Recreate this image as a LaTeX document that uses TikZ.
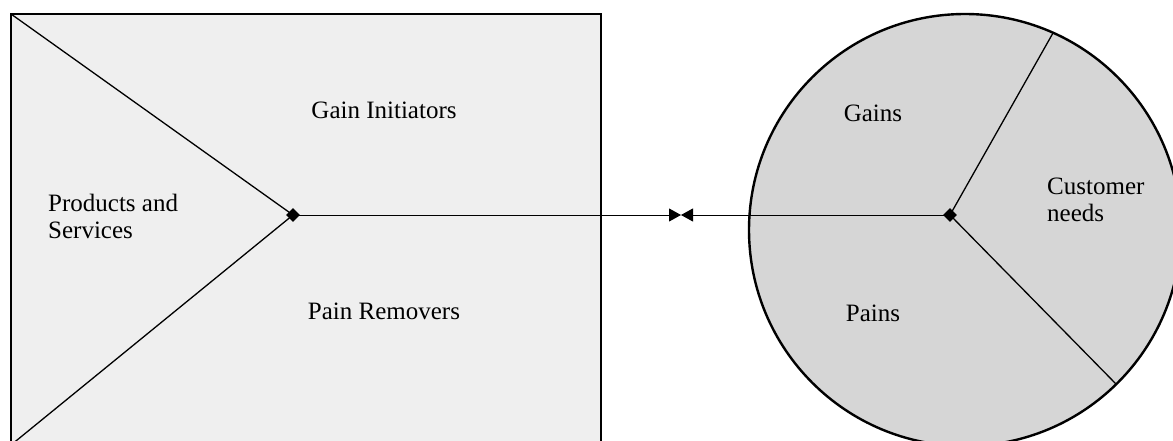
\documentclass[tikz,border=0pt]{standalone}
\usepackage{fontspec}
\setmainfont{Liberation Serif}
\usetikzlibrary{arrows.meta,shapes.geometric}
\begin{document}
\begin{tikzpicture}[x=1pt,y=-1pt,
  lbl/.style={font=\fontsize{25}{27}\selectfont, inner sep=0pt},
  hub/.style={diamond, fill=black, minimum size=14pt, inner sep=0pt},
  edge/.style={line width=1.3pt},
  link/.style={line width=1pt, -{Triangle[length=12pt,width=13pt]}}]
\useasboundingbox (0,0) rectangle (1173,441);
\clip (0,0) rectangle (1173,441);
% value proposition box
\draw[line width=2.6pt, fill={rgb,255:red,239;green,239;blue,239}] (11,14) rectangle (601,460);
\coordinate (tl) at (11,14);
\coordinate (bl) at (11,445);
\coordinate (vp) at (293,215);
\draw[edge] (tl) -- (vp) -- (bl);
% customer profile circle
\draw[line width=2.4pt, fill={rgb,255:red,214;green,214;blue,214}] (965,230) circle (216);
\coordinate (cp) at (950,215);
\coordinate (rimA) at (1053,33);
\coordinate (rimB) at (1116,384);
\draw[edge] (cp) -- (rimA);
\draw[edge] (cp) -- (rimB);
% fit arrows
\coordinate (fit) at (681,215);
\draw[link] (vp) -- (fit);
\draw[link] (cp) -- (fit);
\node[hub] (vph) at (vp) {};
\node[hub] (cph) at (cp) {};
% labels
\node[lbl] (gi) at (384,110) {Gain Initiators};
\node[lbl] (pr) at (384,311) {Pain Removers};
\node[lbl, anchor=west, align=left] (ps) at (48,216) {Products and\\Services};
\node[lbl] (ga) at (873,113) {Gains};
\node[lbl] (pa) at (873,313) {Pains};
\node[lbl, anchor=west, align=left] (cn) at (1047,200) {Customer\\needs};
\end{tikzpicture}
\end{document}
